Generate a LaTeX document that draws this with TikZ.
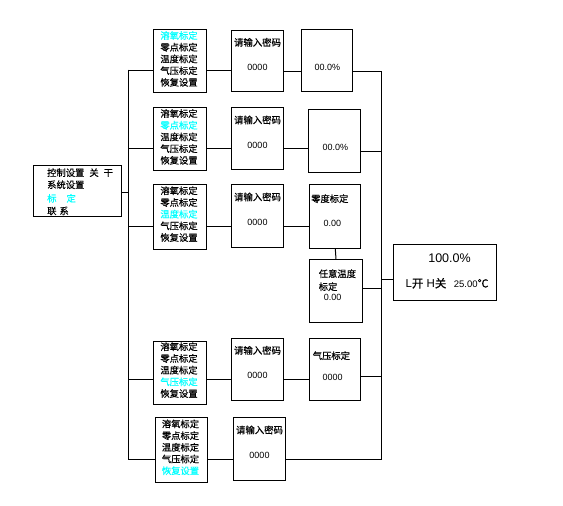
\documentclass[tikz,border=0pt]{standalone}
\usepackage{fontspec}
\setmainfont{Liberation Sans}
\newfontfamily\cjk{Noto Sans CJK SC}[FakeBold=0.5]
\definecolor{hl}{RGB}{0,255,255}
\newcommand\mybox[5]{\node[box, minimum width={(#4-#2)*1pt}, minimum height={(#5-#3)*1pt}] (#1) at (#2,#3) {};}
\begin{document}
\begin{tikzpicture}[x=1pt,y=-1pt,line width=1pt,
  box/.style={draw, inner sep=0pt, anchor=north west},
  menutext/.style={font=\cjk\fontsize{9.3}{11.7}\selectfont, align=center, inner sep=0pt},
  cjktext/.style={font=\cjk\fontsize{9.4}{11}\selectfont, inner sep=0pt},
  numtext/.style={font=\fontsize{9}{11}\selectfont, inner sep=0pt},
  lefttext/.style={font=\cjk\fontsize{9.3}{11}\selectfont, inner sep=0pt, anchor=west}]
\useasboundingbox[fill=white] (0,0) rectangle (563,506);

% boxes
\mybox{main}{33.3}{165}{121}{216}
\mybox{m1}{153.3}{29.3}{205.7}{92}
\mybox{p1}{231.3}{29.7}{282.7}{91.3}
\mybox{v1}{301.3}{29.3}{352.3}{91.3}
\mybox{m2}{153.3}{107.3}{205.7}{170.3}
\mybox{p2}{231.3}{107.3}{282.7}{169.3}
\mybox{v2}{308.3}{109.3}{360.3}{172.3}
\mybox{m3}{153.3}{184.3}{205.7}{248.7}
\mybox{p3}{231.3}{184.3}{282.7}{247.3}
\mybox{v3}{309.3}{184.3}{360.3}{247.7}
\mybox{v3b}{309.3}{259.3}{361.7}{321.7}
\mybox{m4}{153.3}{340.7}{205.7}{404.3}
\mybox{p4}{231.3}{337.7}{282.7}{400.3}
\mybox{v4}{309.3}{337.7}{360.3}{400.3}
\mybox{m5}{155.3}{417.3}{206.7}{481.7}
\mybox{p5}{233.3}{417.3}{284.7}{480.3}
\mybox{res}{393.3}{244.3}{495.7}{300.3}

% main box text
\node[lefttext] (mt1) at (46.7,172.7) {控制设置\hspace{5pt}关\hspace{5pt}干};
\node[lefttext] (mt2) at (46.7,184.7) {系统设置};
\node[lefttext,text=hl] (mt3) at (46.7,198.3) {标\hspace{10pt}定};
\node[lefttext] (mt4) at (46.7,211) {联\hspace{3pt}系};

% menus
\node[menutext] (mn1) at ([xshift=-1pt,yshift=-29.6pt]m1.north) {\textcolor{hl}{溶氧标定}\\零点标定\\温度标定\\气压标定\\恢复设置};
\node[menutext] (mn2) at ([xshift=-1pt,yshift=-29.6pt]m2.north) {溶氧标定\\\textcolor{hl}{零点标定}\\温度标定\\气压标定\\恢复设置};
\node[menutext] (mn3) at ([xshift=-1pt,yshift=-29.8pt]m3.north) {溶氧标定\\零点标定\\\textcolor{hl}{温度标定}\\气压标定\\恢复设置};
\node[menutext] (mn4) at ([xshift=-1pt,yshift=-29.4pt]m4.north) {溶氧标定\\零点标定\\温度标定\\\textcolor{hl}{气压标定}\\恢复设置};
\node[menutext] (mn5) at ([xshift=-1pt,yshift=-30pt]m5.north) {溶氧标定\\零点标定\\温度标定\\气压标定\\\textcolor{hl}{恢复设置}};

% password boxes
\foreach \p in {p1,p2,p3,p4,p5}{
  \node[cjktext] (\p a) at ([yshift=-12.6pt]\p.north) {请输入密码};
  \node[numtext] (\p b) at ([yshift=-37.8pt]\p.north) {0000};
}

% value boxes
\node[numtext] (v1a) at ([yshift=-38.4pt]v1.north) {00.0\%};
\node[numtext] (v2a) at ([xshift=0.6pt,yshift=-38.4pt]v2.north) {00.0\%};
\node[lefttext] (v3a) at (310.7,198.7) {零度标定};
\node[numtext] (v3c) at (332.3,223.3) {0.00};
\node[lefttext] (v3d) at (318.3,273.7) {任意温度};
\node[lefttext] (v3e) at (318.3,286.7) {标定};
\node[numtext] (v3f) at (332.7,297.3) {0.00};
\node[lefttext] (v4a) at (312.3,355.7) {气压标定};
\node[numtext] (v4b) at (332.7,377.3) {0000};

% result
\node[font=\fontsize{12.5}{14}\selectfont, inner sep=0pt] (ra) at (449.5,258.3) {100.0\%};
\node[font=\fontsize{11.5}{14}\selectfont, inner sep=0pt, anchor=west] (rb) at (405,283.3) {L{\cjk 开} H{\cjk 关}};
\node[font=\fontsize{9.5}{14}\selectfont, inner sep=0pt, anchor=west] (rc) at (453.3,283.3) {25.00{\cjk\fontsize{11}{14}\selectfont ℃}};

% left bus
\coordinate (Ltop) at (128.3,69.5);
\coordinate (Lbot) at (128.3,460);
\draw (Ltop) -- (Lbot);
\coordinate (L0) at (128.3,192.3);
\draw (main.east |- L0) -- (L0);
% right bus
\coordinate (Rtop) at (381.7,71.5);
\coordinate (Rbot) at (381.7,459.3);
\draw (Rtop) -- (Rbot);
\coordinate (R0) at (381.7,279.3);
\draw (R0) -- (res.west |- R0);

% row 1
\coordinate (L1) at (128.3,70.7);
\draw (L1) -- (m1.west |- L1);
\draw (m1.east |- L1) -- (p1.west |- L1);
\draw (p1.east |- Rtop) -- (v1.west |- Rtop);
\draw (v1.east |- Rtop) -- (Rtop);
% row 2
\coordinate (L2) at (128.3,148.3);
\coordinate (R2) at (381.7,151.3);
\draw (L2) -- (m2.west |- L2);
\draw (m2.east |- L2) -- (p2.west |- L2);
\draw (p2.east |- L2) -- (v2.west |- L2);
\draw (v2.east |- R2) -- (R2);
% row 3
\coordinate (L3) at (128.3,226.7);
\coordinate (R3) at (381.7,288.3);
\draw (L3) -- (m3.west |- L3);
\draw (m3.east |- L3) -- (p3.west |- L3);
\draw (p3.east |- L3) -- (v3.west |- L3);
\draw (v3.south) -- (v3b.north);
\draw (v3b.east |- R3) -- (R3);
% row 4
\coordinate (L4) at (128.3,379.3);
\coordinate (R4) at (381.7,376);
\draw (L4) -- (m4.west |- L4);
\draw (m4.east |- L4) -- (p4.west |- L4);
\draw (p4.east |- L4) -- (v4.west |- L4);
\draw (v4.east |- R4) -- (R4);
% row 5
\coordinate (L5) at (128.3,459.3);
\draw (L5) -- (m5.west |- L5);
\draw (m5.east |- L5) -- (p5.west |- L5);
\draw (p5.east |- Rbot) -- (Rbot);
\end{tikzpicture}
\end{document}
